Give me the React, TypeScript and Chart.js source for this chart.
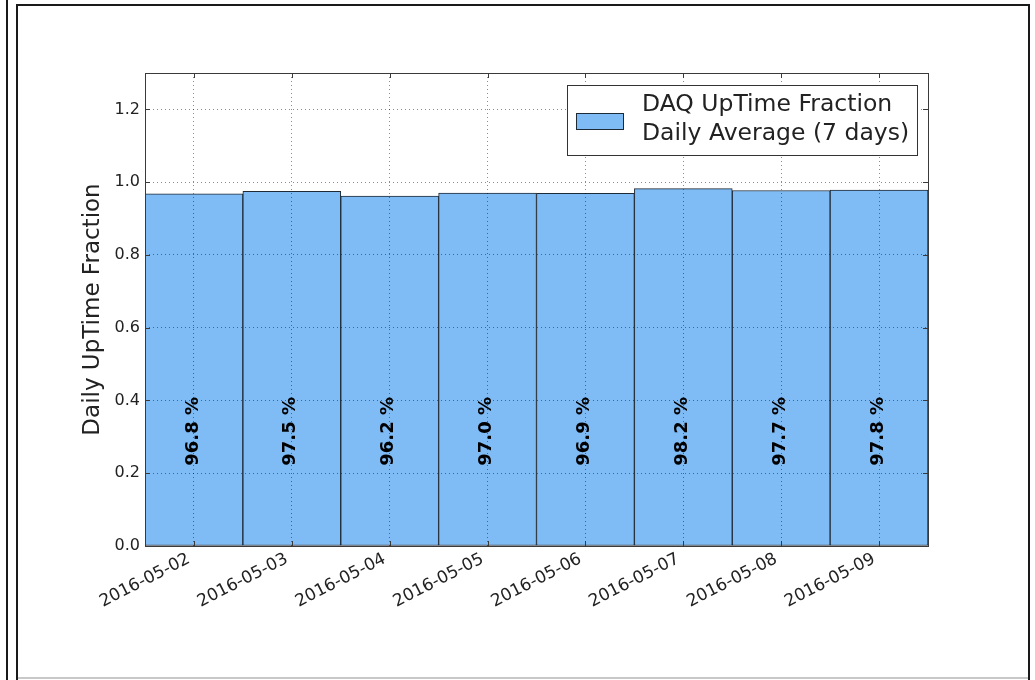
import React, { useEffect, useRef } from "react";
import { Chart, registerables } from "chart.js";

Chart.register(...registerables);

const categories = [
  "2016-05-02",
  "2016-05-03",
  "2016-05-04",
  "2016-05-05",
  "2016-05-06",
  "2016-05-07",
  "2016-05-08",
  "2016-05-09",
];
const uptimeFraction = [0.968, 0.975, 0.962, 0.97, 0.969, 0.982, 0.977, 0.978];
const percentLabels = ["96.8 %", "97.5 %", "96.2 %", "97.0 %", "96.9 %", "98.2 %", "97.7 %", "97.8 %"];
const legendLines = ["DAQ UpTime Fraction", "Daily Average (7 days)"];
const yTitle = "Daily UpTime Fraction";
const yMin = 0;
const yMax = 1.3;
const yStep = 0.2;
const labelValue = 0.315;

const BAR_COLOR = "#7fbbf5";
const EDGE_COLOR = "#1e2a36";
const TEXT_COLOR = "#222222";
const FONT = "'DejaVu Sans', sans-serif";

const decorPlugin = {
  id: "decor",
  beforeDraw(chart: any) {
    const ctx = chart.ctx;
    ctx.save();
    ctx.fillStyle = "#ffffff";
    ctx.fillRect(0, 0, chart.width, chart.height);
    ctx.fillStyle = "#1a1a1a";
    ctx.fillRect(6, 0, 2, chart.height);
    ctx.fillRect(16, 4, 2, chart.height - 4);
    ctx.fillRect(16, 4, 1014, 2);
    ctx.fillRect(1028, 4, 2, chart.height - 4);
    ctx.fillStyle = "#c8c8c8";
    ctx.fillRect(18, 677, 1010, 2);
    ctx.restore();
  },
  afterDatasetsDraw(chart: any) {
    const ctx = chart.ctx;
    const meta = chart.getDatasetMeta(0);
    const ys = chart.scales.y;
    ctx.save();
    ctx.fillStyle = "#000000";
    ctx.font = "bold 18px " + FONT;
    ctx.textAlign = "center";
    ctx.textBaseline = "middle";
    meta.data.forEach((el: any, i: number) => {
      ctx.save();
      ctx.translate(el.x - 1, ys.getPixelForValue(labelValue));
      ctx.rotate(-Math.PI / 2);
      ctx.fillText(percentLabels[i], 0, 0);
      ctx.restore();
    });
    ctx.restore();
  },
  afterDraw(chart: any) {
    const ctx = chart.ctx;
    const a = chart.chartArea;
    const xs = chart.scales.x;
    const ys = chart.scales.y;
    ctx.save();
    ctx.strokeStyle = "#3a3a3a";
    ctx.lineWidth = 1;
    ctx.strokeRect(Math.round(a.left) + 0.5, Math.round(a.top) + 0.5, Math.round(a.right - a.left), Math.round(a.bottom - a.top));
    ctx.beginPath();
    for (let v = yMin; v <= yMax + 1e-9; v += yStep) {
      const y = Math.round(ys.getPixelForValue(v)) + 0.5;
      ctx.moveTo(a.left, y);
      ctx.lineTo(a.left + 5, y);
      ctx.moveTo(a.right, y);
      ctx.lineTo(a.right - 5, y);
    }
    categories.forEach((_, i) => {
      const x = Math.round(xs.getPixelForValue(i)) + 0.5;
      ctx.moveTo(x, a.top);
      ctx.lineTo(x, a.top + 5);
      ctx.moveTo(x, a.bottom);
      ctx.lineTo(x, a.bottom - 5);
    });
    ctx.stroke();
    ctx.fillStyle = TEXT_COLOR;
    ctx.font = "23px " + FONT;
    ctx.textAlign = "center";
    ctx.textBaseline = "middle";
    ctx.save();
    ctx.translate(93, (a.top + a.bottom) / 2);
    ctx.rotate(-Math.PI / 2);
    ctx.fillText(yTitle, 0, 0);
    ctx.restore();
    const lx = 567, ly = 85, lw = 350, lh = 70;
    ctx.fillStyle = "#ffffff";
    ctx.fillRect(lx, ly, lw, lh);
    ctx.strokeStyle = "#333333";
    ctx.strokeRect(lx + 0.5, ly + 0.5, lw, lh);
    ctx.fillStyle = BAR_COLOR;
    ctx.fillRect(576, 113, 47, 16);
    ctx.strokeStyle = EDGE_COLOR;
    ctx.strokeRect(576.5, 113.5, 47, 16);
    ctx.fillStyle = TEXT_COLOR;
    ctx.font = "23.5px " + FONT;
    ctx.textAlign = "left";
    ctx.textBaseline = "middle";
    ctx.fillText(legendLines[0], 642, 105);
    ctx.fillText(legendLines[1], 642, 134);
    ctx.restore();
  },
};

export default function App() {
  const ref = useRef<HTMLCanvasElement | null>(null);
  useEffect(() => {
    if (!ref.current) return;
    const chart = new Chart(ref.current, {
      type: "bar",
      data: {
        labels: categories,
        datasets: [
          {
            label: legendLines.join(" "),
            data: uptimeFraction,
            backgroundColor: BAR_COLOR,
            borderColor: EDGE_COLOR,
            borderWidth: 1,
            borderSkipped: false,
            barPercentage: 1,
            categoryPercentage: 1,
          },
        ],
      },
      options: {
        animation: false,
        responsive: false,
        devicePixelRatio: 1,
        layout: { padding: { top: 73, right: 107, left: 0, bottom: 0 } },
        plugins: { legend: { display: false }, tooltip: { enabled: false } },
        scales: {
          x: {
            afterFit: (s: any) => {
              s.height = 134;
            },
            grid: {
              z: 1,
              color: "rgba(0,0,0,0.45)",
              lineWidth: 1,
              drawTicks: false,
              offset: false,
            },
            border: { display: false, dash: [1, 3] },
            ticks: {
              color: TEXT_COLOR,
              font: { family: FONT, size: 17 },
              minRotation: 27,
              maxRotation: 27,
              padding: 3,
              labelOffset: -5,
              autoSkip: false,
            },
          },
          y: {
            min: yMin,
            max: yMax,
            afterFit: (s: any) => {
              s.width = 145;
            },
            grid: {
              z: 1,
              color: "rgba(0,0,0,0.45)",
              lineWidth: 1,
              drawTicks: false,
            },
            border: { display: false, dash: [1, 3] },
            ticks: {
              stepSize: yStep,
              color: TEXT_COLOR,
              font: { family: FONT, size: 16 },
              padding: 5,
              callback: (v: any) => (Number(v) > 1.25 ? null : Number(v).toFixed(1)),
            },
          },
        },
      },
      plugins: [decorPlugin],
    } as any);
    return () => chart.destroy();
  }, []);
  return (
    <div style={{ position: "fixed", left: 0, top: 0, width: 1035, height: 680 }}>
      <canvas ref={ref} width={1035} height={680} style={{ display: "block" }} />
    </div>
  );
}
